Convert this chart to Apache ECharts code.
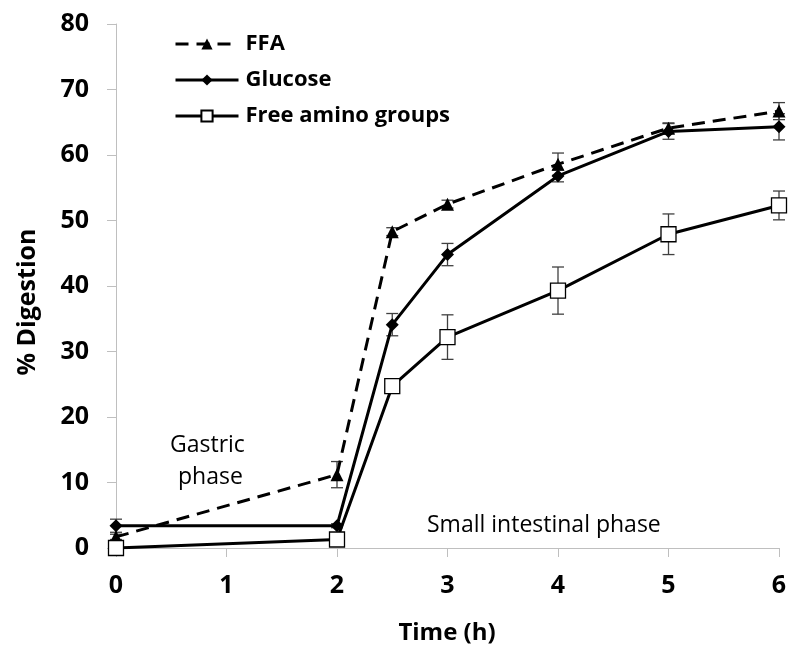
<!DOCTYPE html>
<html>
<head>
<meta charset="utf-8">
<script src="https://cdn.jsdelivr.net/npm/echarts@6/dist/echarts.min.js"></script>
<style>html,body{margin:0;padding:0;background:#fff}#c{width:795px;height:646px}</style>
</head>
<body>
<div id="c"></div>
<script>
var time = [0, 2, 2.5, 3, 4, 5, 6];
var ffa = [1.7, 11.2, 48.3, 52.5, 58.6, 64.1, 66.7];
var ffaErr = [0.4, 2.0, 0.6, 0.6, 1.7, 0.8, 1.3];
var glucose = [3.4, 3.4, 34.1, 44.8, 56.8, 63.6, 64.3];
var glucoseErr = [1.0, 0.3, 1.7, 1.7, 0.9, 1.2, 2.0];
var amino = [0, 1.3, 24.7, 32.2, 39.3, 47.9, 52.3];
var aminoErr = [0.3, 0.3, 0.5, 3.4, 3.6, 3.1, 2.2];
var xTicks = [0, 1, 2, 3, 4, 5, 6];
var yTicks = [0, 10, 20, 30, 40, 50, 60, 70, 80];

var FONT = "'Open Sans', 'Liberation Sans', sans-serif";

function pairs(ys) { return time.map(function (t, i) { return [t, ys[i]]; }); }
function errData(ys, es) { return time.map(function (t, i) { return [t, ys[i] - es[i], ys[i] + es[i]]; }); }

function errSeries(ys, es) {
  return {
    type: 'custom',
    z: 1,
    silent: true,
    data: errData(ys, es),
    renderItem: function (params, api) {
      var lo = api.coord([api.value(0), api.value(1)]);
      var hi = api.coord([api.value(0), api.value(2)]);
      var w = 6;
      var st = { stroke: '#404040', lineWidth: 1.3 };
      return {
        type: 'group',
        children: [
          { type: 'line', shape: { x1: lo[0], y1: lo[1], x2: hi[0], y2: hi[1] }, style: st },
          { type: 'line', shape: { x1: lo[0] - w, y1: lo[1], x2: lo[0] + w, y2: lo[1] }, style: st },
          { type: 'line', shape: { x1: hi[0] - w, y1: hi[1], x2: hi[0] + w, y2: hi[1] }, style: st }
        ]
      };
    }
  };
}

var chart = echarts.init(document.getElementById('c'), null, { renderer: 'canvas' });
chart.setOption({
  animation: false,
  backgroundColor: '#fff',
  grid: { left: 116, right: 16, top: 24, bottom: 98, containLabel: false },
  legend: {
    left: 174, top: 33, orient: 'vertical', itemGap: 14, padding: 0,
    itemWidth: 63, itemHeight: 14,
    lineStyle: { width: 3 },
    textStyle: { fontFamily: FONT, fontWeight: 'bold', fontSize: 22, color: '#000', padding: [0, 0, 0, 2] },
    data: ['FFA', 'Glucose', 'Free amino groups']
  },
  xAxis: {
    type: 'value', min: 0, max: 6, interval: 1,
    axisLine: { show: true, lineStyle: { color: '#bfbfbf', width: 1 } },
    axisTick: { show: true, inside: false, length: 9, lineStyle: { color: '#bfbfbf' } },
    axisLabel: { fontFamily: FONT, fontWeight: 'bold', fontSize: 25, color: '#000', margin: 25,
      formatter: function (v) { return xTicks.indexOf(v) >= 0 ? String(v) : ''; } },
    splitLine: { show: false }
  },
  yAxis: {
    type: 'value', min: 0, max: 80, interval: 10,
    axisLine: { show: true, lineStyle: { color: '#bfbfbf', width: 1 } },
    axisTick: { show: true, inside: false, length: 9, lineStyle: { color: '#bfbfbf' } },
    axisLabel: { fontFamily: FONT, fontWeight: 'bold', fontSize: 25, color: '#000', margin: 27,
      formatter: function (v) { return yTicks.indexOf(v) >= 0 ? String(v) : ''; } },
    splitLine: { show: false }
  },
  graphic: [
    { type: 'text', x: 447, y: 633, style: { text: 'Time (h)', fontFamily: FONT, fontWeight: 'bold', fontSize: 24, fill: '#000', align: 'center', verticalAlign: 'middle' } },
    { type: 'text', x: 28, y: 302, rotation: Math.PI / 2, style: { text: '% Digestion', fontFamily: FONT, fontWeight: 'bold', fontSize: 25, fill: '#000', align: 'center', verticalAlign: 'middle' } },
    { type: 'text', left: 170, top: 434, style: { text: 'Gastric', fontFamily: FONT, fontSize: 23, fill: '#000' } },
    { type: 'text', left: 178, top: 466, style: { text: 'phase', fontFamily: FONT, fontSize: 23, fill: '#000' } },
    { type: 'text', left: 427, top: 514, style: { text: 'Small intestinal phase', fontFamily: FONT, fontSize: 23, fill: '#000' } }
  ],
  series: [
    errSeries(ffa, ffaErr),
    errSeries(glucose, glucoseErr),
    errSeries(amino, aminoErr),
    {
      name: 'FFA', type: 'line', z: 3, data: pairs(ffa),
      symbol: 'triangle', symbolSize: 13,
      lineStyle: { color: '#000', width: 3, type: [13, 8] },
      itemStyle: { color: '#000', borderWidth: 0 }
    },
    {
      name: 'Glucose', type: 'line', z: 4, data: pairs(glucose),
      symbol: 'diamond', symbolSize: 13,
      lineStyle: { color: '#000', width: 3 },
      itemStyle: { color: '#000', borderWidth: 0 }
    },
    {
      name: 'Free amino groups', type: 'line', z: 5, data: pairs(amino),
      symbol: 'rect', symbolSize: 15,
      lineStyle: { color: '#000', width: 3 },
      itemStyle: { color: '#fff', borderColor: '#000', borderWidth: 1.3 }
    }
  ]
});
</script>
</body>
</html>
